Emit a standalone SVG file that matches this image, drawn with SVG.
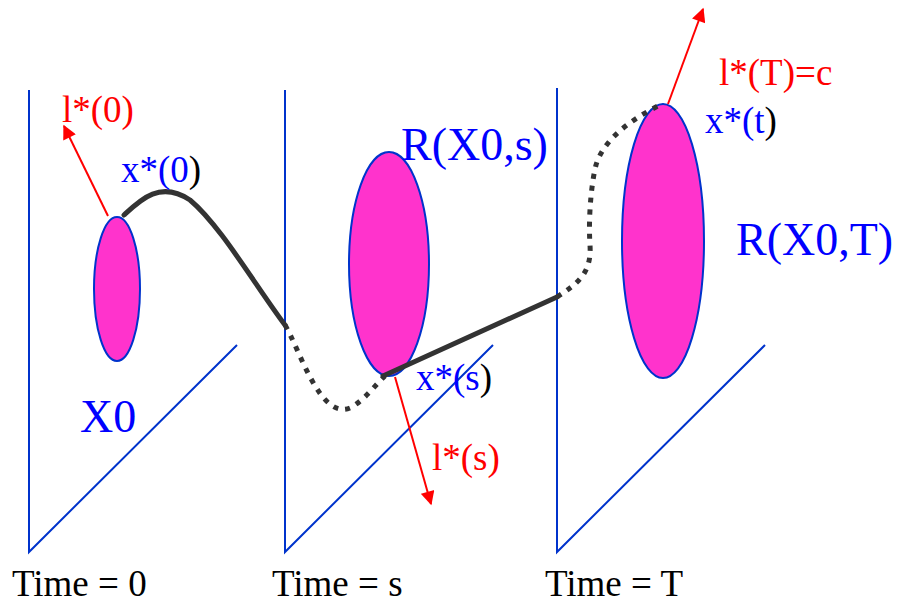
<svg xmlns="http://www.w3.org/2000/svg" width="906" height="602" viewBox="0 0 906 602">
<defs>
<style>
.ax{stroke:#0033cc;stroke-width:2;fill:none}
.el{fill:#ff33cc;stroke:#0033cc;stroke-width:2}
.s{font-size:37px}
.L{font-size:46px}
.b{fill:#0000ff}
.r{fill:#ff0000}
.k{fill:#000}
.sol{stroke:#333;stroke-width:5;fill:none;stroke-linecap:round}
.dot{stroke:#333;stroke-width:5;fill:none;stroke-dasharray:5 7}
.arr{stroke:#ff0000;stroke-width:2;fill:none}
</style>
<marker id="ah" viewBox="0 0 10 10" refX="9" refY="5" markerWidth="8" markerHeight="7" orient="auto" markerUnits="strokeWidth">
<path d="M0,0 L10,5 L0,10 z" fill="#ff0000"/>
</marker>
</defs>
<rect width="906" height="602" fill="#fff"/>
<g font-family="'Liberation Serif', 'DejaVu Serif', 'Times New Roman', serif">
<g id="panel0">
<path class="ax" d="M29,90 V552 L237,345"/>
<ellipse class="el" cx="117" cy="289" rx="23" ry="72"/>
<text class="b L" x="80" y="432">X0</text>
<text class="k s" x="12" y="596">Time = 0</text>
</g>
<g id="panel1">
<path class="ax" d="M285,90 V552 L493,345"/>
<ellipse class="el" cx="389" cy="264" rx="40" ry="112"/>
<text class="b L" x="401" y="160">R(X0,s)</text>
<text class="k s" x="272" y="596">Time = s</text>
</g>
<g id="panel2">
<path class="ax" d="M557,88 V552 L765,345"/>
<ellipse class="el" cx="663" cy="241" rx="41" ry="137"/>
<text class="b L" x="736" y="255">R(X0,T)</text>
<text class="k s" x="545" y="596">Time = T</text>
</g>
<g id="connectors">
<path class="sol" d="M124,215 C140,200 160,180 190,200 C220,225 255,285 285,325"/>
<path class="dot" d="M285,325 C300,350 320,420 350,408 C365,400 375,385 385,376"/>
<path class="sol" d="M383,376 L557,297"/>
<path class="dot" d="M557,297 C575,285 592,275 590,245 C588,215 592,180 596,165 C605,135 640,115 660,105"/>
<path class="arr" marker-end="url(#ah)" d="M108,216 L64,126"/>
<path class="arr" marker-end="url(#ah)" d="M395,377 L431,504"/>
<path class="arr" marker-end="url(#ah)" d="M668,104 L703,9"/>
</g>
<g id="labels">
<text class="r s" x="62" y="122">l*(0)</text>
<text class="b s" x="121" y="182">x*(0<tspan class="k">)</tspan></text>
<text class="b s" x="416" y="390">x*(s<tspan class="k">)</tspan></text>
<text class="r s" x="432" y="470">l*(s)</text>
<text class="r s" x="719" y="85">l*(T)=c</text>
<text class="b s" x="705" y="133">x*(t<tspan class="k">)</tspan></text>
</g>
</g>
</svg>
